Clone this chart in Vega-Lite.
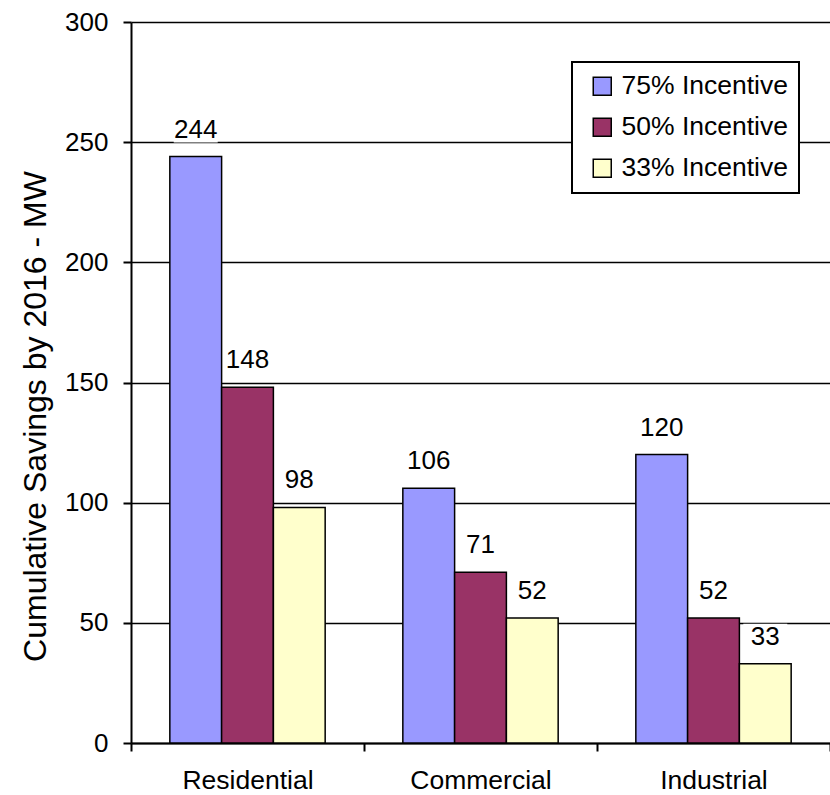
{
  "$schema": "https://vega.github.io/schema/vega-lite/v6.json",
  "width": 699,
  "height": 721,
  "autosize": {"type": "none"},
  "padding": {"left": 131, "top": 22, "right": 0, "bottom": 52},
  "background": "white",
  "config": {
    "view": {"stroke": null},
    "font": "Liberation Sans"
  },
  "data": {
    "values": [
      {"sector": "Residential", "incentive": "75% Incentive", "savings": 244},
      {"sector": "Residential", "incentive": "50% Incentive", "savings": 148},
      {"sector": "Residential", "incentive": "33% Incentive", "savings": 98},
      {"sector": "Commercial", "incentive": "75% Incentive", "savings": 106},
      {"sector": "Commercial", "incentive": "50% Incentive", "savings": 71},
      {"sector": "Commercial", "incentive": "33% Incentive", "savings": 52},
      {"sector": "Industrial", "incentive": "75% Incentive", "savings": 120},
      {"sector": "Industrial", "incentive": "50% Incentive", "savings": 52},
      {"sector": "Industrial", "incentive": "33% Incentive", "savings": 33}
    ]
  },
  "encoding": {
    "x": {
      "field": "sector",
      "type": "nominal",
      "sort": ["Residential", "Commercial", "Industrial"],
      "scale": {"paddingInner": 0, "paddingOuter": 0},
      "axis": {
        "title": null,
        "labelAngle": 0,
        "labelFontSize": 26.5,
        "labelColor": "black",
        "labelPadding": 16,
        "tickBand": "extent",
        "tickSize": 8,
        "tickColor": "black",
        "tickWidth": 2,
        "domainColor": "black",
        "domainWidth": 2,
        "grid": false
      }
    },
    "xOffset": {
      "field": "incentive",
      "sort": ["75% Incentive", "50% Incentive", "33% Incentive"],
      "scale": {"paddingInner": 0, "paddingOuter": 0.75}
    },
    "y": {
      "field": "savings",
      "type": "quantitative",
      "scale": {"domain": [0, 300], "nice": false},
      "axis": {
        "values": [0, 50, 100, 150, 200, 250, 300],
        "title": "Cumulative Savings by 2016 - MW",
        "titleFontSize": 32,
        "titleFontWeight": "normal",
        "titleColor": "black",
        "titleX": -96,
        "titleY": 394,
        "titleAngle": -90,
        "titleBaseline": "middle",
        "titleAlign": "center",
        "labelFontSize": 26,
        "labelColor": "black",
        "labelPadding": 15,
        "tickSize": 8,
        "tickColor": "black",
        "tickWidth": 2,
        "domainColor": "black",
        "domainWidth": 2,
        "grid": true,
        "gridColor": "black",
        "gridWidth": 1.5
      }
    }
  },
  "layer": [
    {
      "mark": {"type": "bar", "fill": "white", "width": 44, "yOffset": -40, "y2Offset": -14},
      "encoding": {
        "y2": {"field": "savings"}
      }
    },
    {
      "mark": {"type": "bar", "stroke": "black", "strokeWidth": 1.5},
      "encoding": {
        "color": {
          "field": "incentive",
          "type": "nominal",
          "sort": ["75% Incentive", "50% Incentive", "33% Incentive"],
          "scale": {
            "domain": ["75% Incentive", "50% Incentive", "33% Incentive"],
            "range": ["#9999FF", "#993366", "#FFFFCC"]
          },
          "legend": {
            "title": null,
            "orient": "none",
            "legendX": 441,
            "legendY": 40,
            "symbolType": "square",
            "symbolSize": 324,
            "symbolStrokeColor": "black",
            "symbolStrokeWidth": 1.5,
            "symbolOffset": 6,
            "labelFontSize": 26.5,
            "labelLimit": 400,
            "labelColor": "black",
            "labelOffset": 6,
            "rowPadding": 14,
            "padding": 11,
            "strokeColor": "black",
            "fillColor": "white",
            "encode": {"legend": {"update": {"strokeWidth": {"value": 2}}}}
          }
        }
      }
    },
    {
      "mark": {"type": "text", "dy": -27, "baseline": "middle", "fontSize": 26, "color": "black"},
      "encoding": {
        "text": {"field": "savings", "type": "quantitative"}
      }
    }
  ]
}
